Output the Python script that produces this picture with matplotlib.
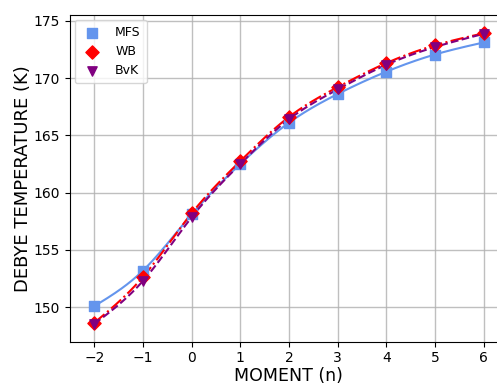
import numpy as np
import matplotlib
matplotlib.use("Agg")
import matplotlib.pyplot as plt

# Debye temperature versus moment order for three lattice models
moment = np.array([-2, -1, 0, 1, 2, 3, 4, 5, 6], dtype=float)
mfs = [150.1, 153.2, 158.1, 162.5, 166.1, 168.6, 170.55, 172.05, 173.1]
wb = [148.65, 152.65, 158.2, 162.75, 166.6, 169.2, 171.3, 172.85, 173.9]
bvk = [148.55, 152.3, 157.85, 162.5, 166.4, 169.0, 171.15, 172.7, 173.85]


def natural_spline(x, y, xs):
    """Evaluate a natural cubic spline through (x, y) at xs."""
    x = np.asarray(x, float)
    y = np.asarray(y, float)
    n = len(x)
    h = np.diff(x)
    A = np.zeros((n, n))
    b = np.zeros(n)
    A[0, 0] = A[-1, -1] = 1.0
    for i in range(1, n - 1):
        A[i, i - 1] = h[i - 1]
        A[i, i] = 2 * (h[i - 1] + h[i])
        A[i, i + 1] = h[i]
        b[i] = 3 * ((y[i + 1] - y[i]) / h[i] - (y[i] - y[i - 1]) / h[i - 1])
    c = np.linalg.solve(A, b)
    idx = np.clip(np.searchsorted(x, xs) - 1, 0, n - 2)
    dx = xs - x[idx]
    hi = h[idx]
    bi = (y[idx + 1] - y[idx]) / hi - hi * (2 * c[idx] + c[idx + 1]) / 3
    di = (c[idx + 1] - c[idx]) / (3 * hi)
    return y[idx] + bi * dx + c[idx] * dx ** 2 + di * dx ** 3


fig = plt.figure(figsize=(4.97, 3.85), dpi=100)
ax = fig.add_axes([0.1408, 0.1125, 0.881, 0.8486])

xs = np.linspace(moment.min(), moment.max(), 300)
ax.plot(xs, natural_spline(moment, mfs, xs), color="cornflowerblue", lw=1.5, zorder=2)
ax.plot(xs, natural_spline(moment, wb, xs), color="red", lw=1.5, ls="-.", zorder=2)
ax.plot(xs, natural_spline(moment, bvk, xs), color="purple", lw=1.5, ls="--", zorder=2)

ax.scatter(moment, mfs, marker="s", s=55, color="cornflowerblue", label="MFS", zorder=3)
ax.scatter(moment, wb, marker="D", s=45, color="red", label="WB", zorder=4)
ax.scatter(moment, bvk, marker="v", s=45, color="purple", label="BvK", zorder=5)

ax.set_xlim(-2.5, 6.5)
ax.set_ylim(147.0, 175.5)
ax.set_xticks(np.arange(-2, 7, 1))
ax.set_yticks(np.arange(150, 176, 5))
ax.grid(True, color="#b0b0b0", lw=1.0, alpha=0.8)
ax.set_axisbelow(True)

ax.set_xlabel("MOMENT (n)", fontsize=12.5, labelpad=1)
ax.set_ylabel("DEBYE TEMPERATURE (K)", fontsize=13, labelpad=1.5)
ax.tick_params(labelsize=10)

ax.legend(loc="upper left", fontsize=9, borderpad=0.47, labelspacing=0.5,
          handlelength=1.8, handletextpad=0.95, borderaxespad=0.4)

fig.savefig("out.png", dpi=100)
